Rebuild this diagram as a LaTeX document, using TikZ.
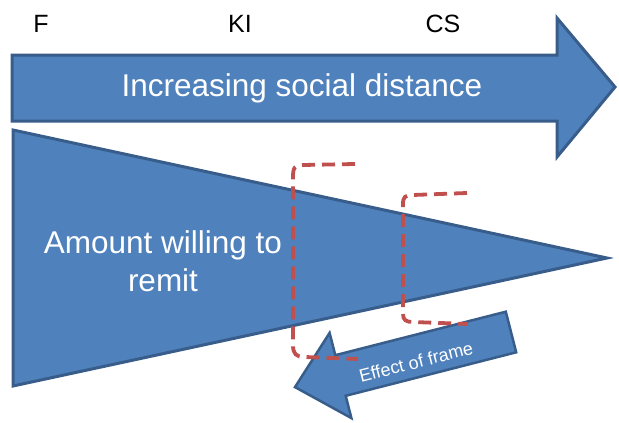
\documentclass[tikz,border=0pt]{standalone}
\usepackage{fontspec}
\setmainfont{Liberation Sans}
\definecolor{fillblue}{HTML}{4F81BD}
\definecolor{edgeblue}{HTML}{385D8A}
\definecolor{framered}{HTML}{C0504D}
\begin{document}
\begin{tikzpicture}[x=1pt,y=-1pt,
  blockshape/.style={fill=fillblue,draw=edgeblue,line width=3pt,line join=miter},
  framedash/.style={draw=framered,line width=3.8pt,dash pattern=on 13pt off 7pt},
  toplabel/.style={font=\fontsize{25}{30}\selectfont,text=black,inner sep=0pt},
  whitelabel/.style={text=white,inner sep=0pt,align=center}]
\useasboundingbox (0,0) rectangle (619,423);
% big arrow
\draw[blockshape] (12,55) -- (557,55) -- (557,18) -- (615,87) -- (557,157) -- (557,121) -- (12,121) -- cycle;
\node[whitelabel,font=\fontsize{31.5}{36}\selectfont] (dist) at (302,88) {Increasing social distance};
% top labels
\node[toplabel] (f) at (41,24) {F};
\node[toplabel] (ki) at (240,24) {KI};
\node[toplabel] (cs) at (443,24) {CS};
% triangle
\draw[blockshape] (13,130) -- (607,258) -- (13,386) -- cycle;
\node[whitelabel,font=\fontsize{31.5}{38}\selectfont] (amount) at (163,261) {Amount willing to\\remit};
% effect of frame arrow
\draw[blockshape,line width=2.5pt] (505.8,311.7) -- (516.2,352.3) -- (345.7,395.8) -- (351.4,418.1) -- (295,387.1) -- (329.6,332.9) -- (335.3,355.2) -- cycle;
\node[whitelabel,font=\fontsize{18}{22}\selectfont,rotate=14.3] (effect) at (416,362) {Effect of frame};
% dashed frames
\draw[framedash] (355,164) -- (303,165) .. controls (294,165) and (293,168) .. (293,178) -- (293,345) .. controls (293,354) and (296,357) .. (305,357) -- (358,359);
\draw[framedash] (467,193) -- (413,195) .. controls (405,195) and (403,197) .. (403,204) -- (403,314) .. controls (403,320) and (406,322) .. (413,322) -- (468,324);
\end{tikzpicture}
\end{document}
